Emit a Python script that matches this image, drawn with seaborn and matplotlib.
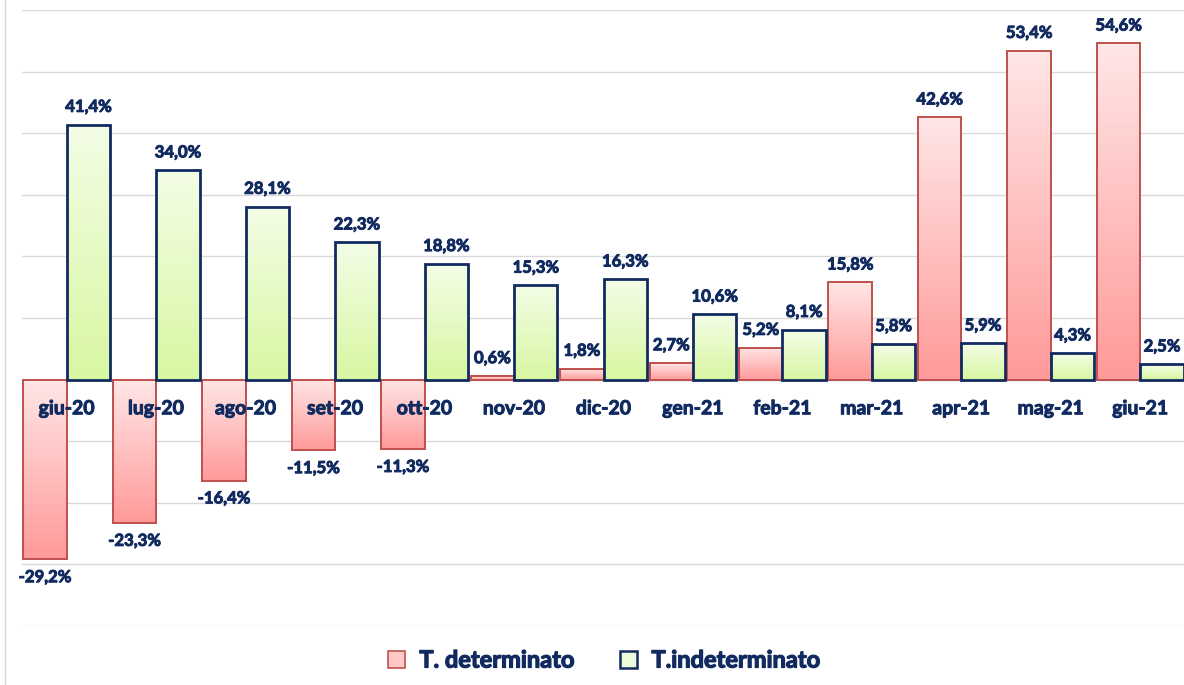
import numpy as np
import pandas as pd
import matplotlib
matplotlib.use("Agg")
import matplotlib.pyplot as plt
import matplotlib.patheffects as pe
from matplotlib.colors import LinearSegmentedColormap
from matplotlib.patches import Patch
from matplotlib.lines import Line2D
import seaborn as sns

# data
mesi = ["giu-20", "lug-20", "ago-20", "set-20", "ott-20", "nov-20", "dic-20",
        "gen-21", "feb-21", "mar-21", "apr-21", "mag-21", "giu-21"]
determinato = [-29.2, -23.3, -16.4, -11.5, -11.3, 0.6, 1.8, 2.7, 5.2, 15.8, 42.6, 53.4, 54.6]
indeterminato = [41.4, 34.0, 28.1, 22.3, 18.8, 15.3, 16.3, 10.6, 8.1, 5.8, 5.9, 4.3, 2.5]
serie = ["T. determinato", "T.indeterminato"]

df = pd.DataFrame({
    "mese": mesi * 2,
    "valore": determinato + indeterminato,
    "serie": [serie[0]] * len(mesi) + [serie[1]] * len(mesi),
})

navy = "#112B60"
red_edge = "#C0504D"
red_cm = LinearSegmentedColormap.from_list("r", ["#FFE6E6", "#FF9A9A"])
green_cm = LinearSegmentedColormap.from_list("g", ["#F3FDE6", "#D8F7A2"])
W = "bold"
thick = [pe.withStroke(linewidth=0.7, foreground=navy)]

sns.set_style("white")
plt.rcParams["font.family"] = ["Lato", "DejaVu Sans"]

fig = plt.figure(figsize=(11.84, 6.85), dpi=100)
ax = fig.add_axes([22 / 1184, 1 - 626 / 685, 1163 / 1184, 616 / 685])

sns.barplot(data=df, x="mese", y="valore", hue="serie", order=mesi,
            hue_order=serie, width=0.97, ax=ax, legend=False,
            palette=["#FFC0C0", "#E8FBC8"], saturation=1)

ylim = (-40, 60)
grad = np.linspace(0, 1, 100).reshape(-1, 1)
for cont, cm, ec, vals in zip(ax.containers, [red_cm, green_cm], [red_edge, navy],
                              [determinato, indeterminato]):
    for bar, v in zip(cont, vals):
        x, y = bar.get_x(), bar.get_y()
        w, h = bar.get_width(), bar.get_height()
        y0, y1 = min(y, y + h), max(y, y + h)
        im = ax.imshow(grad, cmap=cm, aspect="auto", origin="upper",
                       extent=[x, x + w, y0, y1], zorder=2)
        im.set_clip_path(bar)
        bar.set_facecolor("none")
        bar.set_edgecolor(ec)
        bar.set_linewidth(2 if ec == navy else 1.4)
        bar.set_zorder(3)
        lab = f"{v:.1f}%".replace(".", ",")
        cx = x + w / 2
        if v >= 0:
            ax.annotate(lab, (cx, y1), xytext=(0, 7), textcoords="offset points",
                        ha="center", va="bottom", fontsize=12, fontweight=W,
                        color=navy, path_effects=thick)
        else:
            ax.annotate(lab, (cx, y0), xytext=(0, -7), textcoords="offset points",
                        ha="center", va="top", fontsize=12, fontweight=W,
                        color=navy, path_effects=thick)

for i, m in enumerate(mesi):
    ax.annotate(m, (i, 0), xytext=(0, -21), textcoords="offset points",
                ha="center", va="center", fontsize=14, fontweight=W,
                color=navy, zorder=5, path_effects=thick)

ax.set_xlim(-0.5, len(mesi) - 0.5)
ax.set_ylim(*ylim)
ax.set_yticks(np.arange(-40, 61, 10))
ax.yaxis.grid(True, color="#D9D9D9", lw=1)
ax.set_axisbelow(True)
ax.set_yticklabels([])
ax.set_xticks([])
ax.tick_params(left=False, bottom=False)
ax.set_xlabel("")
ax.set_ylabel("")
for s in ax.spines.values():
    s.set_visible(False)
ax.axhline(0, color="#D9D9D9", lw=1, zorder=1)

# chart frame line on the left
fig.add_artist(Line2D([5 / 1184, 5 / 1184], [0, 1], color="#D9D9D9", lw=1))

handles = [Patch(facecolor="#FFC8C8", edgecolor=red_edge, lw=1.2),
           Patch(facecolor="#EEFBD8", edgecolor=navy, lw=1.8)]
leg = fig.legend(handles, serie, loc="center", bbox_to_anchor=(604 / 1184, 1 - 660 / 685),
                 ncol=2, frameon=False, handlelength=0.75, handleheight=0.75,
                 columnspacing=1.9, handletextpad=0.6,
                 prop={"size": 17, "weight": W}, labelcolor=navy)
for t in leg.get_texts():
    t.set_path_effects([pe.withStroke(linewidth=0.9, foreground=navy)])

fig.savefig("out.png", dpi=100)
